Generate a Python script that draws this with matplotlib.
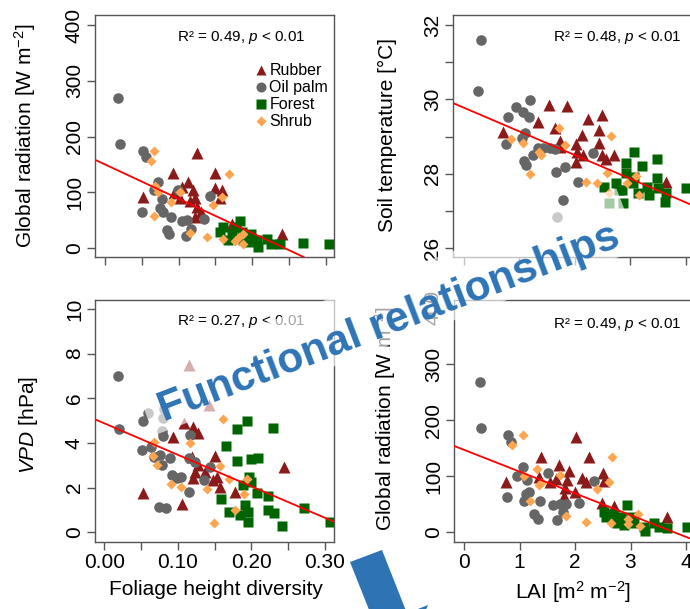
import numpy as np
import matplotlib
matplotlib.use('Agg')
import matplotlib.pyplot as plt
from matplotlib.patches import Polygon
from matplotlib.lines import Line2D

plt.rcParams['font.family'] = ['Liberation Sans', 'DejaVu Sans']
plt.rcParams['mathtext.fontset'] = 'custom'
plt.rcParams['mathtext.rm'] = 'Liberation Sans'
plt.rcParams['mathtext.it'] = 'Liberation Sans:italic'
plt.rcParams['mathtext.bf'] = 'Liberation Sans:bold'

# ---- panel A: foliage height diversity vs global radiation ----
rubber_a_x = [0.125, 0.093, 0.149, 0.113, 0.052, 0.094, 0.105, 0.120, 0.122, 0.149,
              0.159, 0.156, 0.125, 0.131, 0.122, 0.102, 0.116, 0.173, 0.241]
rubber_a_y = [170, 134, 135, 119, 91, 99, 109, 104, 89, 107,
              104, 89, 74, 65, 56, 89, 85, 44, 26]
palm_a_x = [0.017, 0.020, 0.051, 0.056, 0.050, 0.072, 0.067, 0.077, 0.075, 0.079,
            0.090, 0.084, 0.087, 0.099, 0.105, 0.112, 0.110, 0.117, 0.135, 0.143]
palm_a_y = [270, 186, 174, 163, 64, 118, 104, 88, 71, 64,
            56, 32, 26, 104, 48, 50, 22, 35, 53, 93]
forest_a_x = [0.184, 0.161, 0.156, 0.172, 0.186, 0.199, 0.206, 0.195, 0.208, 0.220,
              0.226, 0.238, 0.269, 0.305, 0.167, 0.188, 0.178]
forest_a_y = [49, 38, 29, 26, 29, 26, 14, 11, 2, 17, 8, 8, 9, 7, 14, 14, 38]
shrub_a_x = [0.067, 0.063, 0.168, 0.068, 0.072, 0.102, 0.090, 0.147, 0.159, 0.067,
             0.116, 0.139, 0.160, 0.177, 0.187, 0.188, 0.182]
shrub_a_y = [174, 157, 133, 111, 101, 101, 83, 77, 91, 57, 27, 20, 16, 13, 26, 7, 20]
fit_a = (150, -615)

# ---- panel B: LAI vs soil temperature ----
rubber_b_x = [1.54, 1.87, 0.72, 1.34, 1.64, 2.24, 2.50, 2.14, 2.45, 1.73,
              2.03, 1.73, 2.05, 2.45, 2.50, 2.03, 2.15, 2.72, 2.56, 3.65]
rubber_b_y = [29.85, 29.82, 29.13, 29.40, 29.22, 29.46, 29.58, 29.04, 29.17, 28.89,
              28.80, 28.73, 28.59, 28.82, 28.50, 28.32, 28.50, 28.50, 28.39, 27.78]
palm_b_x = [0.31, 0.27, 1.19, 0.95, 1.07, 0.80, 1.18, 1.10, 0.76, 1.06, 1.25, 1.09,
            1.12, 1.34, 1.55, 1.43, 1.64, 1.82, 1.67, 2.06, 2.33, 1.79, 1.69]
palm_b_y = [31.61, 30.23, 29.98, 29.80, 29.67, 29.53, 29.52, 29.09, 28.80, 28.95, 28.50, 28.35,
            28.23, 28.68, 28.68, 28.70, 28.66, 28.19, 28.05, 27.78, 28.56, 27.29, 26.83]
forest_b_x = [3.08, 2.93, 3.22, 3.49, 2.93, 3.08, 3.49, 2.54, 2.75, 2.81, 3.05,
              3.14, 3.31, 3.35, 3.50, 3.63, 3.65, 4.01, 2.63, 2.87, 2.85]
forest_b_y = [28.59, 28.30, 28.21, 28.39, 28.01, 27.90, 27.88, 27.65, 27.76, 27.56, 27.74,
              27.49, 27.65, 27.43, 27.61, 27.25, 27.47, 27.61, 27.22, 27.22, 27.55]
shrub_b_x = [1.72, 0.86, 1.08, 1.36, 1.40, 1.19, 1.82, 2.66, 2.20, 2.40, 2.59, 3.11,
             2.95, 3.17, 2.62]
shrub_b_y = [29.22, 28.93, 28.82, 28.59, 28.50, 27.99, 28.77, 29.01, 27.78, 27.74, 28.01, 27.94,
             27.74, 27.43, 27.48]
fit_b = (29.78, -0.637)

# ---- panel C: foliage height diversity vs VPD ----
rubber_c_x = [0.053, 0.105, 0.150, 0.119, 0.128, 0.124, 0.137, 0.121, 0.148, 0.157,
              0.153, 0.178, 0.244, 0.115, 0.108, 0.121, 0.094, 0.128, 0.142]
rubber_c_y = [1.77, 1.27, 3.42, 3.39, 3.01, 2.71, 2.71, 2.42, 2.34, 2.04,
              2.49, 1.82, 2.94, 7.49, 4.91, 4.70, 4.25, 4.43, 5.70]
palm_c_x = [0.019, 0.020, 0.053, 0.051, 0.064, 0.076, 0.067, 0.089, 0.078, 0.115, 0.124,
            0.092, 0.104, 0.099, 0.115, 0.135, 0.144, 0.074, 0.084, 0.060, 0.081, 0.080,
            0.078, 0.080, 0.117]
palm_c_y = [7.01, 4.63, 5.00, 3.69, 3.83, 3.46, 3.39, 3.31, 3.01, 3.31, 3.16,
            2.57, 2.49, 2.45, 1.82, 2.34, 2.94, 1.15, 1.07, 5.36, 5.50, 5.10,
            4.55, 4.30, 4.36]
forest_c_x = [0.194, 0.180, 0.229, 0.166, 0.181, 0.200, 0.209, 0.197, 0.200, 0.189, 0.207,
              0.222, 0.159, 0.169, 0.191, 0.196, 0.185, 0.196, 0.223, 0.231, 0.241, 0.271, 0.307]
forest_c_y = [5.00, 4.61, 4.66, 3.87, 3.19, 3.27, 3.31, 2.49, 2.27, 2.12, 1.75,
              1.63, 1.48, 0.92, 1.22, 0.92, 0.77, 0.47, 1.00, 0.88, 0.28, 1.07, 0.47]
shrub_c_x = [0.067, 0.066, 0.072, 0.117, 0.091, 0.104, 0.139, 0.157, 0.169, 0.194,
             0.190, 0.178, 0.149, 0.162]
shrub_c_y = [4.06, 3.43, 3.00, 3.98, 2.16, 2.04, 1.93, 2.98, 2.37, 2.37,
             1.70, 0.99, 0.41, 5.07]
fit_c = (4.88, -14.1)

# ---- panel D: LAI vs global radiation ----
rubber_d_x = [2.02, 1.38, 2.26, 0.75, 1.72, 1.89, 1.55, 1.65, 1.86, 2.13,
              2.19, 2.51, 2.52, 1.35, 1.82, 2.00, 1.80, 2.49, 2.70, 3.66]
rubber_d_y = [170, 134, 134, 90, 120, 110, 90, 95, 93, 96,
              90, 105, 92, 98, 79, 71, 64, 52, 46, 27]
palm_d_x = [0.28, 0.31, 0.80, 0.85, 1.07, 0.96, 1.14, 0.78, 1.11, 1.18, 1.08,
            1.37, 1.51, 1.26, 1.33, 1.61, 1.73, 1.68, 1.83, 1.79, 2.07, 2.35]
palm_d_y = [268, 185, 173, 161, 116, 100, 93, 63, 69, 71, 55,
            55, 105, 33, 23, 49, 50, 22, 50, 37, 52, 92]
forest_d_x = [2.94, 2.52, 2.69, 2.82, 2.55, 3.00, 2.75, 3.06, 2.88, 3.24,
              3.42, 3.51, 3.65, 3.27, 4.01]
forest_d_y = [49, 37, 33, 28, 28, 28, 16, 16, 13, 9, 16, 9, 7, 2, 10]
shrub_d_x = [1.07, 0.86, 2.67, 1.32, 1.73, 1.09, 1.35, 1.38, 2.40, 2.61,
             1.19, 1.83, 2.19, 2.64, 2.95, 2.95, 3.14, 3.18]
shrub_d_y = [173, 156, 134, 112, 102, 100, 84, 87, 78, 90,
             56, 29, 19, 17, 23, 15, 33, 11]
fit_d = (147, -38.8)

groups = ['Rubber', 'Oil palm', 'Forest', 'Shrub']
colors = ['#8B1A1A', '#666666', '#006400', '#FFA54F']
markers = ['^', 'o', 's', 'D']
msizes = [8.3, 7.6, 7.0, 4.9]

W, H = 690, 609
fig = plt.figure(figsize=(6.9, 6.09), dpi=100)


def add_ax(l, t, r, b):
    return fig.add_axes([l / W, 1 - b / H, (r - l) / W, (b - t) / H])


def style(ax):
    for s in ax.spines.values():
        s.set_color('#555555')
        s.set_linewidth(1.0)
    ax.tick_params(direction='out', length=5.5, width=1.0, color='#555555',
                   labelsize=15, pad=2.5)
    ax.tick_params(axis='y', labelrotation=90)


def scatter_panel(ax, xs, ys, fit):
    for x, y, c, m, ms in zip(xs, ys, colors, markers, msizes):
        ax.plot(x, y, ls='none', marker=m, ms=ms, color=c, mec='none', zorder=2)
    ax.axline((0, fit[0]), slope=fit[1], color='red', lw=1.3, zorder=3)
    style(ax)


ax_a = add_ax(95, 15, 333.5, 257)
ax_b = add_ax(453, 15, 693, 257)
ax_c = add_ax(95, 300, 334, 541.5)
ax_d = add_ax(454, 300, 693, 542)

scatter_panel(ax_a, [rubber_a_x, palm_a_x, forest_a_x, shrub_a_x],
              [rubber_a_y, palm_a_y, forest_a_y, shrub_a_y], fit_a)
scatter_panel(ax_b, [rubber_b_x, palm_b_x, forest_b_x, shrub_b_x],
              [rubber_b_y, palm_b_y, forest_b_y, shrub_b_y], fit_b)
scatter_panel(ax_c, [rubber_c_x, palm_c_x, forest_c_x, shrub_c_x],
              [rubber_c_y, palm_c_y, forest_c_y, shrub_c_y], fit_c)
scatter_panel(ax_d, [rubber_d_x, palm_d_x, forest_d_x, shrub_d_x],
              [rubber_d_y, palm_d_y, forest_d_y, shrub_d_y], fit_d)

# limits and ticks
ax_a.set_xlim(-0.0136, 0.3105)
ax_a.set_ylim(-16, 418)
ax_a.set_xticks(np.arange(0, 0.301, 0.05))
ax_a.set_xticklabels([])
ax_a.set_yticks([0, 100, 200, 300, 400])

ax_c.set_xlim(-0.0126, 0.3123)
ax_c.set_ylim(-0.41, 10.4)
ax_c.set_xticks(np.arange(0, 0.301, 0.05))
ax_c.set_xticklabels(['0.00', '', '0.10', '', '0.20', '', '0.30'])
ax_c.set_yticks([0, 2, 4, 6, 8, 10])

ax_b.set_xlim((453 - 463.5) / 55.5, (693 - 463.5) / 55.5)
ax_b.set_ylim(25.76, 32.27)
ax_b.set_xticks([0, 1, 2, 3, 4])
ax_b.set_xticklabels([])
ax_b.set_yticks([26, 27, 28, 29, 30, 31, 32])
ax_b.set_yticklabels(['26', '', '28', '', '30', '', '32'])

ax_d.set_xlim((454 - 464) / 55.5, (693 - 464) / 55.5)
ax_d.set_ylim(-17.3, 414)
ax_d.set_xticks([0, 1, 2, 3, 4])
ax_d.set_yticks([0, 100, 200, 300, 400])

for ax in (ax_a, ax_b, ax_c, ax_d):
    for lab in ax.get_yticklabels():
        lab.set_va('center')

# R2 annotations
ax_a.text(0.612, 0.909, r'R² = 0.49, $\mathit{p}$ < 0.01', transform=ax_a.transAxes,
          ha='center', va='center', fontsize=11)
ax_b.text(0.683, 0.909, r'R² = 0.48, $\mathit{p}$ < 0.01', transform=ax_b.transAxes,
          ha='center', va='center', fontsize=11)
ax_c.text(0.612, 0.91, r'R² = 0.27, $\mathit{p}$ < 0.01', transform=ax_c.transAxes,
          ha='center', va='center', fontsize=11)
ax_d.text(0.683, 0.897, r'R² = 0.49, $\mathit{p}$ < 0.01', transform=ax_d.transAxes,
          ha='center', va='center', fontsize=11)

# axis labels
ax_a.set_ylabel(r'Global radiation [W m$^{-2}$]', fontsize=15)
ax_a.yaxis.set_label_coords(-0.239, 0.5)
ax_b.set_ylabel('Soil temperature [°C]', fontsize=15)
ax_b.yaxis.set_label_coords(-0.233, 0.506)
ax_c.set_ylabel(r'$\mathit{VPD}$ [hPa]', fontsize=15)
ax_c.yaxis.set_label_coords(-0.23, 0.482)
ax_d.set_ylabel(r'Global radiation [W m$^{-2}$]', fontsize=15)
ax_d.yaxis.set_label_coords(-0.233, 0.508)
ax_c.set_xlabel('Foliage height diversity', fontsize=15)
ax_c.xaxis.set_label_coords(0.504, -0.159)
ax_d.set_xlabel(r'LAI [m$^{2}$ m$^{-2}$]', fontsize=15)
ax_d.xaxis.set_label_coords(0.499, -0.153)

# legend
handles = [Line2D([], [], ls='none', marker=m, ms=ms * 0.95, color=c, mec='none')
           for c, m, ms in zip(colors, markers, msizes)]
ax_a.legend(handles, groups, loc='upper left', bbox_to_anchor=(0.668, 0.80),
            frameon=False, fontsize=11.5, handlelength=0.8, handletextpad=0.15,
            labelspacing=0.12, borderpad=0, borderaxespad=0)

# overlay: semi-transparent band and title
blue = '#2E74B5'
ang = np.deg2rad(21)
ox, oy = 164, H - 422
u = np.array([np.cos(ang), np.sin(ang)])
v = np.array([-np.sin(ang), np.cos(ang)])
L = 492
corners = [np.array([ox, oy]) + s * u + t * v
           for s, t in [(-14, -9), (L + 14, -9), (L + 14, 56), (-14, 56)]]
band = Polygon([(p[0] / W, p[1] / H) for p in corners], closed=True,
               transform=fig.transFigure, facecolor='white', edgecolor='none',
               alpha=0.65, zorder=9)
fig.add_artist(band)
fig.text(ox / W, oy / H, 'Functional relationships', rotation=21,
         rotation_mode='anchor', ha='left', va='baseline', fontsize=30.6,
         fontweight='bold', color=blue, zorder=10)

# block arrow
arrow_px = [(350, 562), (382, 550), (407, 613.3), (428, 605),
            (406, 656), (354.4, 634), (375.4, 625.9)]
arrow = Polygon([(x / W, 1 - y / H) for x, y in arrow_px], closed=True,
                transform=fig.transFigure, facecolor=blue, edgecolor='none', zorder=10)
fig.add_artist(arrow)

fig.savefig('out.png', dpi=100)
